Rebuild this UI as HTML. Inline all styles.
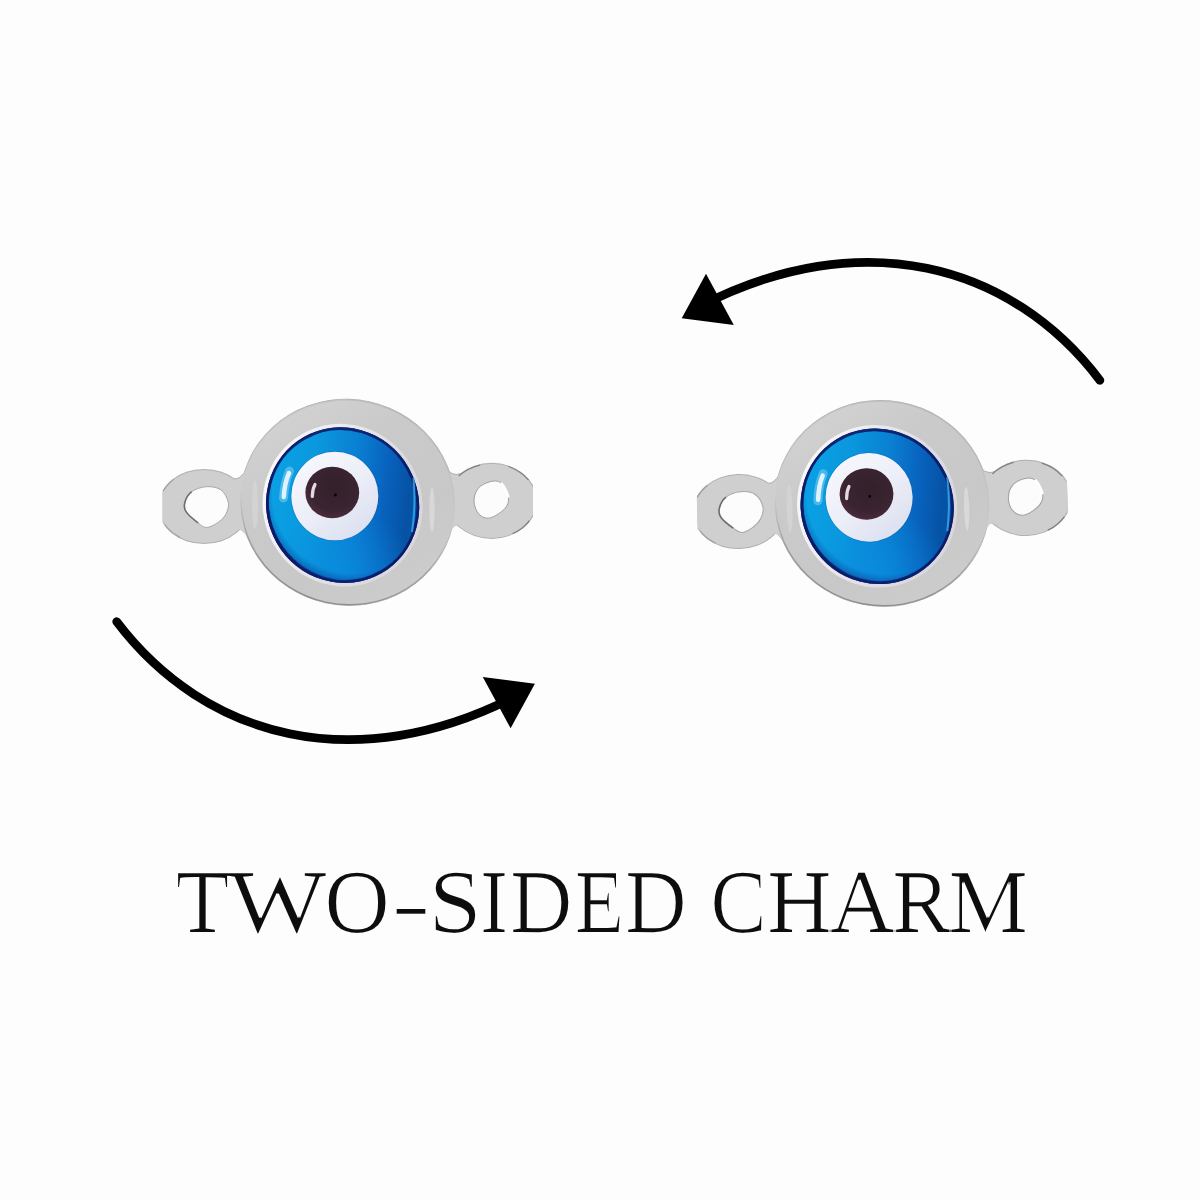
<!DOCTYPE html>
<html>
<head>
<meta charset="utf-8">
<style>
html,body{margin:0;padding:0;background:#fdfdfd;width:1200px;height:1200px;overflow:hidden}
svg{display:block;position:absolute;left:0;top:0}
</style>
</head>
<body>
<svg width="1200" height="1200" viewBox="0 0 1200 1200">
<defs>
  <linearGradient id="blueLin" x1="0" y1="0.45" x2="1" y2="0.55">
    <stop offset="0" stop-color="#0aa2e4"/>
    <stop offset="0.3" stop-color="#0a98de"/>
    <stop offset="0.55" stop-color="#0a80d2"/>
    <stop offset="0.75" stop-color="#0862bd"/>
    <stop offset="0.9" stop-color="#0652a4"/>
    <stop offset="1" stop-color="#0752a4"/>
  </linearGradient>
  <radialGradient id="blueBot" cx="0.5" cy="0.95" r="0.45">
    <stop offset="0" stop-color="#0a8ee0" stop-opacity="0.75"/>
    <stop offset="1" stop-color="#0a8ee0" stop-opacity="0"/>
  </radialGradient>
  <radialGradient id="blueShade" cx="0.56" cy="0.42" r="0.62">
    <stop offset="0.8" stop-color="#0a2a80" stop-opacity="0"/>
    <stop offset="0.9" stop-color="#0a2478" stop-opacity="0.45"/>
    <stop offset="1" stop-color="#081660" stop-opacity="0.95"/>
  </radialGradient>
  <linearGradient id="silver" x1="0" y1="0" x2="1" y2="1">
    <stop offset="0" stop-color="#d6d6d6"/>
    <stop offset="0.35" stop-color="#cacaca"/>
    <stop offset="0.65" stop-color="#c8c8c8"/>
    <stop offset="1" stop-color="#cfcfcf"/>
  </linearGradient>
  <linearGradient id="white" x1="0.2" y1="0.1" x2="0.8" y2="0.9">
    <stop offset="0" stop-color="#f6f7fd"/>
    <stop offset="0.5" stop-color="#eceef8"/>
    <stop offset="1" stop-color="#dde1f0"/>
  </linearGradient>
  <radialGradient id="pupil" cx="0.55" cy="0.4" r="0.6">
    <stop offset="0" stop-color="#33202b"/>
    <stop offset="0.75" stop-color="#3a2431"/>
    <stop offset="1" stop-color="#4a2b3a"/>
  </radialGradient>

  <clipPath id="clipL" clipPathUnits="userSpaceOnUse"><rect x="162.6" y="400" width="200" height="200"/></clipPath>
  <clipPath id="clipR" clipPathUnits="userSpaceOnUse"><rect x="400" y="400" width="133" height="200"/></clipPath>
  <linearGradient id="lip" x1="0" y1="0.3" x2="1" y2="0.7">
    <stop offset="0" stop-color="#fbfbfd"/>
    <stop offset="0.3" stop-color="#ececf1"/>
    <stop offset="0.65" stop-color="#dcdce2"/>
    <stop offset="1" stop-color="#d6d6dc"/>
  </linearGradient>
  <filter id="thin" x="-2%" y="-5%" width="104%" height="110%"><feMorphology operator="erode" radius="1 0"/></filter>
  <clipPath id="blueClip" clipPathUnits="userSpaceOnUse"><ellipse cx="342.63" cy="505.14" rx="78.41" ry="75.9" transform="rotate(60.4 342.63 505.14)"/></clipPath>
  <clipPath id="blueInnerClip" clipPathUnits="userSpaceOnUse"><ellipse cx="343.7" cy="503.5" rx="76.8" ry="74.3" transform="rotate(60.4 343.7 503.5)"/></clipPath>
  <clipPath id="lipClip" clipPathUnits="userSpaceOnUse"><ellipse cx="342.63" cy="505.14" rx="81.9" ry="79.4" transform="rotate(60.4 342.63 505.14)"/></clipPath>
  <linearGradient id="edgeGrad" x1="0" y1="0" x2="0" y2="1">
    <stop offset="0" stop-color="#9a9a9a" stop-opacity="0.3"/>
    <stop offset="0.55" stop-color="#9a9a9a" stop-opacity="0"/>
    <stop offset="0.75" stop-color="#808080" stop-opacity="0.5"/>
    <stop offset="1" stop-color="#808080" stop-opacity="0.8"/>
  </linearGradient>
  <g id="charm">
    <!-- outline underlay -->
    <g fill="#b0b0b0">
      <ellipse cx="347.63" cy="502.33" rx="107.9" ry="103.3" transform="rotate(12.5 347.63 502.33)"/>
      <ellipse cx="204" cy="506.5" rx="46" ry="37.5" clip-path="url(#clipL)"/>
      <ellipse cx="491.7" cy="500.9" rx="45.4" ry="38.1" clip-path="url(#clipR)"/>
      <path d="M228,476 Q237,483 245,471 L247,537 Q238,521 228,538 Z"/>
      <path d="M449,471 Q455,477 466,471 L466,531 Q453,517 449,538 Z"/>
    </g>
    <g fill="#cfcfcf">
      <ellipse cx="204" cy="506.5" rx="45" ry="36.5" clip-path="url(#clipL)"/>
      <ellipse cx="491.7" cy="500.9" rx="44.4" ry="37.1" clip-path="url(#clipR)"/>
      <path d="M228,477 Q237,484 245,472 L247,536 Q238,522 228,537 Z"/>
      <path d="M449,472 Q455,478 466,472 L466,530 Q453,518 449,537 Z"/>
    </g>
    <ellipse cx="347.63" cy="502.33" rx="107.34" ry="102.76" transform="rotate(12.5 347.63 502.33)" fill="url(#silver)"/>
    <!-- bezel sheen -->
    <ellipse cx="432" cy="510" rx="2.6" ry="22" fill="#dedede" opacity="0.75"/>
    <ellipse cx="255" cy="505" rx="3" ry="24" fill="#d9d9d9" opacity="0.6"/>
    <!-- edge details -->
    <path d="M458.7,476.1 A44.4,37.1 0 0 1 480.2,465.1 M508.3,466.5 A44.4,37.1 0 0 1 528.5,480.2 M529.4,520.6 A44.4,37.1 0 0 1 512.5,533.7" fill="none" stroke="#6f6f6f" stroke-width="1.3" opacity="0.75"/>
    <path d="M180.2,537.5 A45,36.5 0 0 1 165.0,524.8 M163.2,491.1 A45,36.5 0 0 1 173.9,479.4" fill="none" stroke="#8a8a8a" stroke-width="1.1" opacity="0.6"/>
    <ellipse cx="347.63" cy="502.33" rx="106.8" ry="102.2" transform="rotate(12.5 347.63 502.33)" fill="none" stroke="url(#edgeGrad)" stroke-width="1.4"/>
    <!-- holes -->
    <path d="M206.4,486.7 C211.3,486.4 217.3,487.2 221.0,489.9 C224.7,492.6 227.6,498.6 228.4,502.7 C229.2,506.8 227.4,511.2 225.6,514.6 C223.8,518.0 220.6,520.8 217.4,522.9 C214.2,525.0 209.6,527.5 206.4,527.5 C203.2,527.5 201.5,525.5 198.1,522.9 C194.7,520.3 188.4,515.3 186.2,511.9 C184.0,508.5 183.9,506.1 184.8,502.7 C185.7,499.3 188.1,494.4 191.7,491.7 C195.3,489.0 201.5,487.0 206.4,486.7 Z" fill="#fcfcfc" stroke="#a8a8a8" stroke-width="1"/>
    <path d="M191.7,491.7 C188.1,494.4 185.7,499.3 184.8,502.7 C183.9,506.1 184.0,508.5 186.2,511.9 C188.4,515.3 194.7,520.3 198.1,522.9" fill="none" stroke="#5a5a5a" stroke-width="1.6" opacity="0.8"/>
    <path d="M490.0,481.7 C493.8,480.8 497.9,480.3 501.0,483.0 C504.1,485.7 507.8,493.4 508.4,497.7 C509.0,502.0 507.8,505.3 504.7,508.7 C501.6,512.1 494.3,517.0 490.0,517.9 C485.7,518.8 481.7,517.0 479.0,514.2 C476.3,511.5 474.1,505.7 474.0,501.4 C473.9,497.1 475.4,491.8 478.1,488.5 C480.8,485.2 486.2,482.6 490.0,481.7 Z" fill="#fcfcfc" stroke="#a0a0a0" stroke-width="1"/>
    <path d="M501.0,483.0 C504.1,485.7 507.8,493.4 508.4,497.7" fill="none" stroke="#ffffff" stroke-width="2.5"/>
    <!-- inner lip -->
    <rect x="258" y="421" width="170" height="170" fill="url(#lip)" clip-path="url(#lipClip)"/>
    <!-- blue glass -->
    <g clip-path="url(#blueClip)">
      <rect x="262" y="425" width="162" height="162" fill="#0a1e70"/>
      <rect x="262" y="425" width="162" height="162" fill="url(#blueLin)" clip-path="url(#blueInnerClip)"/>
      <rect x="262" y="425" width="162" height="162" fill="url(#blueBot)"/>
      <rect x="262" y="425" width="162" height="162" fill="url(#blueShade)"/>
    </g>
    <ellipse cx="342.63" cy="505.14" rx="77.0" ry="74.5" transform="rotate(60.4 342.63 505.14)" fill="none" stroke="#0c1a66" stroke-width="2.8" opacity="0.9"/>
    <!-- white ring -->
    <ellipse cx="334.8" cy="496" rx="44.2" ry="45" fill="#0b56b0" opacity="0.35"/>
    <ellipse cx="334.8" cy="496" rx="43.5" ry="44.3" fill="url(#white)"/>
    <!-- pupil -->
    <ellipse cx="332.3" cy="492.5" rx="26.9" ry="25.8" fill="url(#pupil)"/>
    <path d="M315,484.5 Q312.3,489.5 312.3,496.5" stroke="#efe4ec" stroke-width="3.2" fill="none" stroke-linecap="round" opacity="0.95"/>
    <circle cx="335.4" cy="495" r="1.4" fill="#000"/>
    <!-- glass highlights -->
    <path d="M289.5,471 Q284.5,482 283.5,498" stroke="#7fcdf4" stroke-width="9" fill="none" stroke-linecap="round" opacity="0.55"/>
    <path d="M289,473 Q284.5,483 283.8,497" stroke="#eef9ff" stroke-width="4.5" fill="none" stroke-linecap="round" opacity="0.9"/>
    <path d="M413.5,478 Q416,505 412,532" stroke="#38aef2" stroke-width="2" fill="none" opacity="0.8"/>
  </g>
  <g id="arrow">
    <path d="M116.7,621.7 C205.4,738.75 355.95,778.58 516.59,695.79" fill="none" stroke="#000" stroke-width="8.7" stroke-linecap="round"/>
    <polygon points="482.8,676.9 534.9,683.8 510.6,728.3" fill="#000"/>
  </g>
</defs>

<use href="#charm"/>
<use href="#charm" transform="translate(534.5 1) rotate(-1.6 349 503)"/>

<use href="#arrow"/>
<use href="#arrow" transform="rotate(180 608.3 501)"/>

<rect x="396.7" y="909" width="28.6" height="4.7" fill="#0d0d0d"/>
<g font-family="'Liberation Serif', serif" font-size="89.6" fill="#0d0d0d" filter="url(#thin)" text-rendering="geometricPrecision">
<text transform="translate(175.53 931.6) scale(0.987 1)">T</text>
<text transform="translate(227.70 931.6) scale(1.171 1)">W</text>
<text transform="translate(324.04 931.6) scale(1.022 1)">O</text>
<text transform="translate(428.22 931.6) scale(1.082 1)">S</text>
<text transform="translate(479.51 931.6) scale(0.974 1)">I</text>
<text transform="translate(509.68 931.6) scale(0.974 1)">D</text>
<text transform="translate(574.55 931.6) scale(0.912 1)">E</text>
<text transform="translate(624.72 931.6) scale(0.962 1)">D</text>
<text transform="translate(709.88 931.6) scale(0.954 1)">C</text>
<text transform="translate(766.69 931.6) scale(1.008 1)">H</text>
<text transform="translate(829.39 931.6) scale(1.011 1)">A</text>
<text transform="translate(892.06 931.6) scale(0.982 1)">R</text>
<text transform="translate(948.30 931.6) scale(1.004 1)">M</text>
</g>
</svg>
</body>
</html>
